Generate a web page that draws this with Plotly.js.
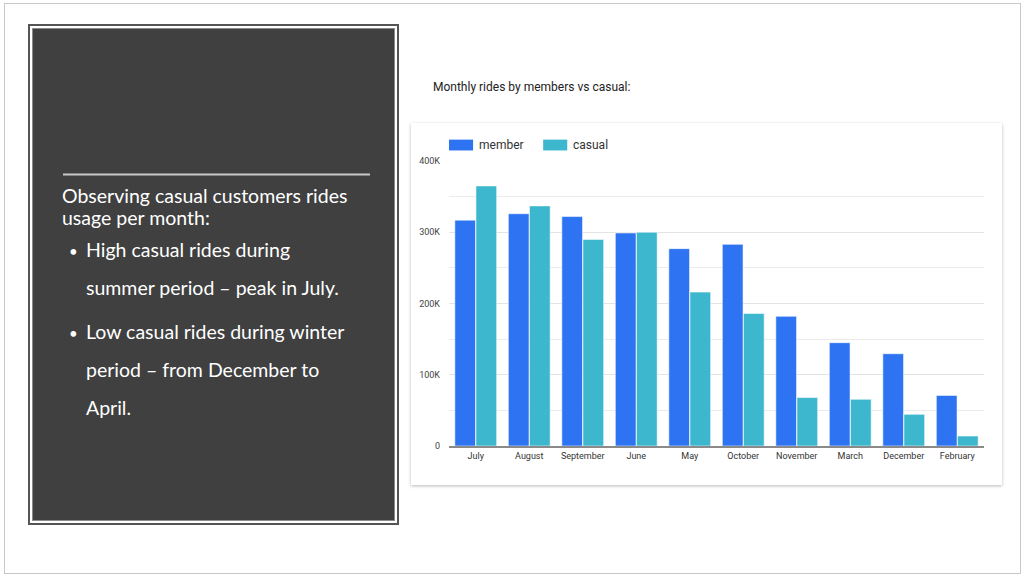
<!DOCTYPE html>
<html>
<head>
<meta charset="utf-8">
<script src="https://cdn.plot.ly/plotly-3.0.1.min.js"></script>
<style>
  html, body { margin:0; padding:0; background:#fff; }
  body { width:1026px; height:579px; position:relative; overflow:hidden; }
  #frame { position:absolute; left:4px; top:3px; width:1017px; height:571px; border:1px solid #c8c8c8; box-sizing:border-box; }
  #panel { position:absolute; left:28px; top:24px; width:371px; height:501px; box-sizing:border-box;
           background:#404040; border:2px solid #555;
           box-shadow: inset 0 0 0 2px #ffffff, inset 0 0 0 3px #8a8a8a; }
  #panelText { position:absolute; left:0; top:0; width:1026px; height:579px; pointer-events:none; }
  #card { position:absolute; left:411px; top:123px; width:591px; height:362px; background:#fff;
          box-shadow: 0 1px 3px rgba(0,0,0,0.28); }
  #chart { position:absolute; left:411px; top:60px; width:591px; height:425px; }
</style>
</head>
<body>
<div id="frame"></div>
<div id="panel"></div>
<svg id="panelText" xmlns="http://www.w3.org/2000/svg">
  <line x1="63" y1="174.5" x2="370" y2="174.5" stroke="#c8c8c8" stroke-width="2"/>
  <g font-family="Lato, 'Noto Sans', sans-serif" font-size="19.5" fill="#ffffff">
    <text x="62" y="203">Observing casual customers rides</text>
    <text x="62" y="225">usage per month:</text>
    <text x="69" y="257" font-size="15">•</text>
    <text x="86" y="257">High casual rides during</text>
    <text x="86" y="295">summer period – peak in July.</text>
    <text x="69" y="339" font-size="15">•</text>
    <text x="86" y="339">Low casual rides during winter</text>
    <text x="86" y="377">period – from December to</text>
    <text x="86" y="415">April.</text>
  </g>
</svg>
<div id="card"></div>
<div id="chart"></div>
<script>
const months = ['July','August','September','June','May','October','November','March','December','February'];
const memberRides = [317000, 326000, 322000, 299000, 277000, 283000, 182000, 145000, 129500, 71000];
const casualRides = [365000, 337000, 290000, 300000, 216000, 186000, 68000, 65500, 44500, 14000];
const seriesNames = ['member', 'casual'];
const seriesColors = ['#2d73f2', '#3db7cd'];
const yTickVals = [0, 100000, 200000, 300000, 400000];
const yTickText = ['0', '100K', '200K', '300K', '400K'];
const chartTitle = 'Monthly rides by members vs casual:';

const traces = [
  { type:'bar', name:seriesNames[0], x:months, y:memberRides,
    marker:{ color:seriesColors[0], line:{ color:'rgba(255,255,255,0.55)', width:1 } }, hoverinfo:'x+y' },
  { type:'bar', name:seriesNames[1], x:months, y:casualRides,
    marker:{ color:seriesColors[1], line:{ color:'rgba(255,255,255,0.55)', width:1 } }, hoverinfo:'x+y' }
];

const W = 591, H = 425;
const layout = {
  width: W, height: H,
  margin: { l:38, r:18, t:101, b:39, pad:0 },
  paper_bgcolor: 'rgba(0,0,0,0)',
  plot_bgcolor: 'rgba(0,0,0,0)',
  font: { family:'Roboto, Arial, sans-serif', color:'#444', size:9 },
  title: { text: chartTitle, x: 22/W, xref:'container', xanchor:'left', y: 1 - 27/H, yref:'container', yanchor:'middle',
           font:{ family:'Roboto, Arial, sans-serif', size:12, color:'#222' } },
  showlegend: false,
  barmode: 'group',
  bargap: 0.21,
  bargroupgap: 0.02,
  xaxis: { type:'category', showgrid:false, showline:true, linecolor:'#8a8a8a', linewidth:1.5,
           ticks:'', ticklabelstandoff:1, tickfont:{ size:9, color:'#333' }, fixedrange:true },
  yaxis: { range:[0, 400000], tickvals:yTickVals, ticktext:yTickText, showgrid:true, gridcolor:'#e3e3e3', gridwidth:1,
           minor:{ dtick:50000, showgrid:true, gridcolor:'#ebebeb', gridwidth:1 },
           zeroline:false, showline:false, ticks:'', ticklabelstandoff:8, tickfont:{ size:9, color:'#444' }, fixedrange:true },
  shapes: [
    { type:'rect', xref:'paper', yref:'paper', x0:0, x1:0.045, y0:1.037, y1:1.075, fillcolor:seriesColors[0], line:{ width:0 } },
    { type:'rect', xref:'paper', yref:'paper', x0:0.176, x1:0.221, y0:1.037, y1:1.075, fillcolor:seriesColors[1], line:{ width:0 } }
  ],
  annotations: [
    { xref:'paper', yref:'paper', x:0.052, y:1.056, xanchor:'left', yanchor:'middle', showarrow:false,
      text:seriesNames[0], font:{ size:12, color:'#333', family:'Roboto, Arial, sans-serif' } },
    { xref:'paper', yref:'paper', x:0.2283, y:1.056, xanchor:'left', yanchor:'middle', showarrow:false,
      text:seriesNames[1], font:{ size:12, color:'#333', family:'Roboto, Arial, sans-serif' } }
  ]
};

Plotly.newPlot('chart', traces, layout, { displayModeBar:false, staticPlot:true });
</script>
</body>
</html>
